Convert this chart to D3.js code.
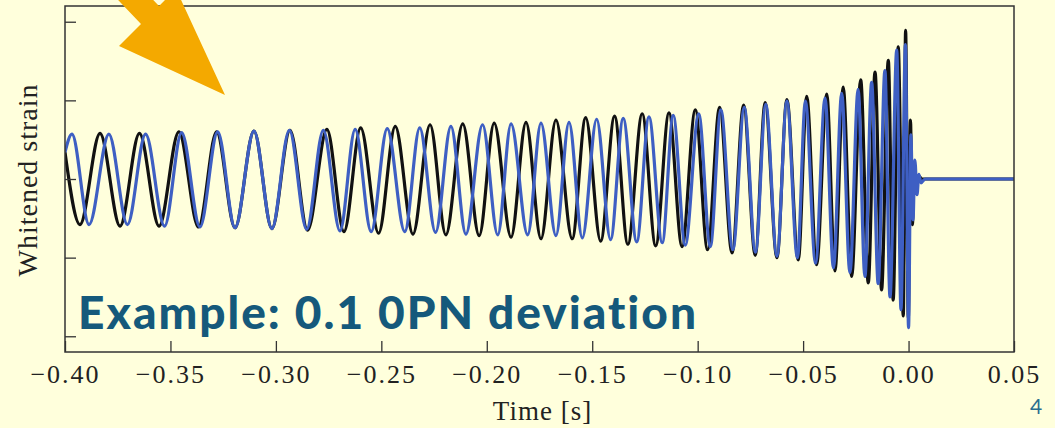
<!DOCTYPE html>
<html>
<head>
<meta charset="utf-8">
<script src="https://cdn.jsdelivr.net/npm/d3@7"></script>
<style>
  html, body { margin: 0; padding: 0; background: #ffffdc; }
  svg { display: block; }
</style>
</head>
<body>
<svg id="chart" width="1055" height="428"></svg>
<script>
// extrema of the two whitened waveforms (time in s, strain in tick units)
const blackT = [-0.4000, -0.3929, -0.3834, -0.3739, -0.3647, -0.3554, -0.3460, -0.3367, -0.3281, -0.3194,
  -0.3104, -0.3019, -0.2933, -0.2850, -0.2758, -0.2677, -0.2598, -0.2513, -0.2434, -0.2350,
  -0.2269, -0.2194, -0.2114, -0.2036, -0.1965, -0.1885, -0.1814, -0.1743, -0.1672, -0.1595,
  -0.1531, -0.1460, -0.1394, -0.1331, -0.1263, -0.1199, -0.1136, -0.1074, -0.1011, -0.0953,
  -0.0896, -0.0837, -0.0782, -0.0727, -0.0680, -0.0624, -0.0577, -0.0523, -0.0483, -0.0436,
  -0.0388, -0.0349, -0.0310, -0.0270, -0.0227, -0.0191, -0.0159, -0.0128, -0.0096, -0.0073,
  -0.0049, -0.0025, -0.0014, -0.0001, 0.0009, 0.0018, 0.0028, 0.0037, 0.0047, 0.0064, 0.0500]
const blackV = [0.34, -0.58, 0.58, -0.60, 0.58, -0.60, 0.60, -0.61, 0.60, -0.62,
  0.61, -0.63, 0.62, -0.65, 0.63, -0.67, 0.65, -0.69, 0.67, -0.70,
  0.69, -0.71, 0.70, -0.72, 0.71, -0.74, 0.72, -0.76, 0.75, -0.76,
  0.78, -0.79, 0.80, -0.83, 0.83, -0.85, 0.84, -0.86, 0.88, -0.90,
  0.91, -0.94, 0.94, -0.97, 0.97, -1.00, 1.01, -1.03, 1.05, -1.09,
  1.08, -1.17, 1.17, -1.24, 1.26, -1.32, 1.36, -1.41, 1.51, -1.54,
  1.68, -1.74, 1.89, -1.77, 0.75, -0.58, 0.18, -0.14, 0.04, 0, 0]

const blueT = [-0.4000, -0.3967, -0.3886, -0.3792, -0.3704, -0.3618, -0.3528, -0.3447, -0.3360, -0.3276,
  -0.3194, -0.3104, -0.3019, -0.2936, -0.2854, -0.2775, -0.2696, -0.2624, -0.2548, -0.2472,
  -0.2389, -0.2318, -0.2243, -0.2170, -0.2099, -0.2020, -0.1948, -0.1885, -0.1806, -0.1743,
  -0.1672, -0.1610, -0.1547, -0.1479, -0.1413, -0.1353, -0.1289, -0.1231, -0.1168, -0.1116,
  -0.1059, -0.0995, -0.0940, -0.0890, -0.0833, -0.0779, -0.0726, -0.0677, -0.0624, -0.0577,
  -0.0527, -0.0489, -0.0441, -0.0396, -0.0356, -0.0317, -0.0278, -0.0239, -0.0207, -0.0175,
  -0.0144, -0.0112, -0.0088, -0.0056, -0.0036, -0.0015, 0.0000, 0.0011, 0.0021, 0.0030,
  0.0040, 0.0049, 0.0059, 0.0078, 0.0500]
const blueV = [0.34, 0.57, -0.58, 0.57, -0.58, 0.57, -0.60, 0.59, -0.61, 0.60,
  -0.62, 0.61, -0.63, 0.62, -0.64, 0.62, -0.66, 0.63, -0.67, 0.64,
  -0.67, 0.65, -0.68, 0.67, -0.70, 0.69, -0.71, 0.70, -0.71, 0.71,
  -0.72, 0.72, -0.75, 0.76, -0.77, 0.77, -0.80, 0.79, -0.81, 0.81,
  -0.84, 0.83, -0.86, 0.88, -0.90, 0.91, -0.93, 0.95, -0.98, 0.99,
  -1.00, 0.99, -1.07, 1.03, -1.13, 1.09, -1.19, 1.14, -1.24, 1.23,
  -1.33, 1.38, -1.50, 1.64, -1.66, 1.71, -1.89, 0.56, -0.52, 0.24,
  -0.20, 0.06, -0.05, 0, 0]

const xTicks = [-0.40, -0.35, -0.30, -0.25, -0.20, -0.15, -0.10, -0.05, 0.00, 0.05]
const yTicks = [-2, -1, 0, 1, 2]

const svg = d3.select("#chart"),
  margin = {top: 6, right: 41, bottom: 76, left: 65},
  width = +svg.attr("width") - margin.left - margin.right,
  height = +svg.attr("height") - margin.top - margin.bottom

svg.append("rect").attr("width", 1055).attr("height", 428).attr("fill", "#ffffdc")

const x = d3.scaleLinear().domain([-0.40, 0.05]).range([0, width])
const y = d3.scaleLinear().domain([-2.2, 2.2]).range([height, 0])

const g = svg.append("g").attr("transform", `translate(${margin.left},${margin.top})`)

g.append("clipPath").attr("id", "clip")
  .append("rect").attr("width", width).attr("height", height)

// the two waveforms, smooth curve through the extrema
const line = d3.line()
  .x(d => x(d[0]))
  .y(d => y(d[1]))
  .curve(d3.curveMonotoneX)

const blackData = blackT.map((t, i) => [t, blackV[i]])
const blueData = blueT.map((t, i) => [t, blueV[i]])

g.append("path")
  .datum(blackData)
  .attr("clip-path", "url(#clip)")
  .attr("fill", "none")
  .attr("stroke", "#111")
  .attr("stroke-width", 3.2)
  .attr("d", line)

g.append("path")
  .datum(blueData)
  .attr("clip-path", "url(#clip)")
  .attr("fill", "none")
  .attr("stroke", "#3e5fc3")
  .attr("stroke-width", 3.2)
  .attr("d", line)

// axes
const xAxis = d3.axisBottom(x).tickValues(xTicks).tickSizeInner(-11).tickSizeOuter(0)
  .tickPadding(13).tickFormat(d3.format(".2f"))
const yAxis = d3.axisLeft(y).tickValues(yTicks).tickSizeInner(-11).tickSizeOuter(0)
  .tickFormat("")

const gx = g.append("g").attr("transform", `translate(0,${height})`).call(xAxis)
const gy = g.append("g").call(yAxis)
gx.select(".domain").remove()
gy.select(".domain").remove()
g.selectAll(".tick line").attr("stroke", "#333").attr("stroke-width", 1.3)
gx.selectAll(".tick text")
  .attr("fill", "#222")
  .style("font-family", "'Liberation Serif', serif")
  .style("font-size", "26px")
  .style("letter-spacing", "2px")

g.append("rect")
  .attr("width", width).attr("height", height)
  .attr("fill", "none").attr("stroke", "#333").attr("stroke-width", 1.5)

// labels
svg.append("text")
  .attr("x", margin.left + width / 2 + 3)
  .attr("y", 420)
  .attr("text-anchor", "middle")
  .attr("fill", "#222")
  .style("font-family", "'Liberation Serif', serif")
  .style("font-size", "27px")
  .style("letter-spacing", "1px")
  .text("Time [s]")

svg.append("text")
  .attr("transform", "translate(37,180) rotate(-90)")
  .attr("text-anchor", "middle")
  .attr("fill", "#222")
  .style("font-family", "'Liberation Serif', serif")
  .style("font-size", "28px")
  .style("letter-spacing", "1px")
  .text("Whitened strain")

svg.append("text")
  .attr("x", 78)
  .attr("y", 329)
  .attr("fill", "#15597b")
  .style("font-family", "Lato, sans-serif")
  .style("font-weight", "900")
  .style("font-size", "46px")
  .style("letter-spacing", "2px")
  .text("Example: 0.1 0PN deviation")

svg.append("text")
  .attr("x", 1036)
  .attr("y", 414)
  .attr("text-anchor", "middle")
  .attr("fill", "#2a6d8f")
  .style("font-family", "Lato, sans-serif")
  .style("font-size", "21px")
  .text("4")

// orange arrow pointing at the early inspiral
svg.append("polygon")
  .attr("points", "225,95 119,46 141,24 100,-19 135,-19 159,6 176,-11")
  .attr("fill", "#f4a900")
</script>
</body>
</html>
